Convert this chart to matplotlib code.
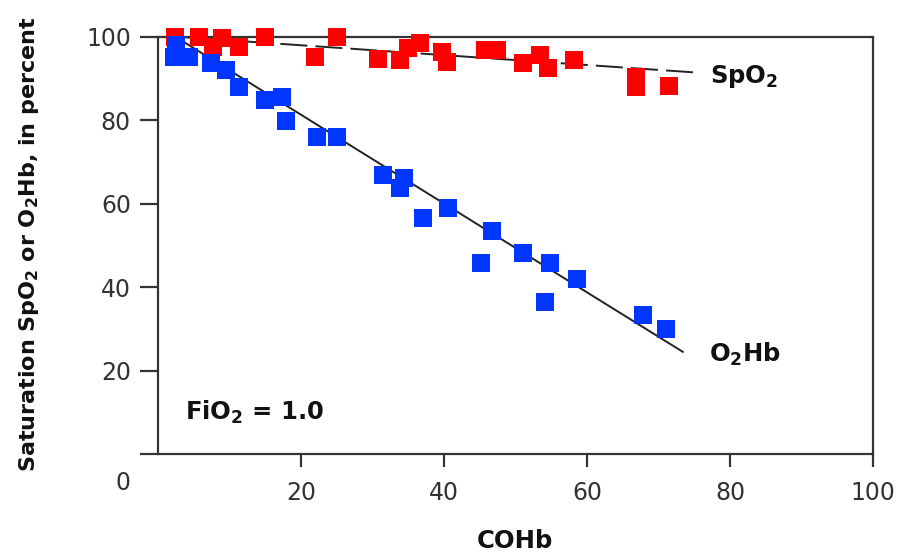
import matplotlib
matplotlib.use("Agg")
import matplotlib.pyplot as plt
from matplotlib.transforms import ScaledTranslation

plt.rcParams['font.family'] = ['DejaVu Sans']
plt.rcParams['mathtext.fontset'] = 'dejavusans'
plt.rcParams['mathtext.default'] = 'bf'

# ---- data ----
spo2_x = [2.4, 5.7, 7.7, 9.0, 11.3, 15.0, 22.0, 25.0, 30.8, 33.9, 34.9, 36.7,
          39.7, 40.4, 45.7, 47.4, 51.0, 53.4, 54.5, 58.2, 66.9, 66.8, 71.4]
spo2_y = [100.0, 100.0, 97.6, 99.7, 97.6, 100.0, 95.2, 100.0, 94.7, 94.5, 97.3, 98.5,
          96.4, 94.0, 97.0, 97.0, 93.7, 95.6, 92.5, 94.5, 90.4, 88.0, 88.2]

o2hb_x = [2.5, 2.3, 4.3, 7.4, 9.5, 11.3, 15.0, 17.4, 17.9, 22.3, 25.1, 31.4,
          33.9, 34.4, 37.0, 40.6, 46.7, 45.2, 51.0, 54.8, 54.1, 58.6, 67.9, 71.1]
o2hb_y = [98.0, 95.2, 95.2, 93.7, 92.0, 88.0, 84.8, 85.5, 79.8, 75.9, 75.9, 67.0,
          63.9, 66.3, 56.6, 58.9, 53.5, 45.8, 48.2, 45.8, 36.4, 41.9, 33.3, 30.0]

spo2_fit_x = [2.4, 75.1]
spo2_fit_y = [100.1, 91.5]
o2hb_fit_x = [2.4, 73.4]
o2hb_fit_y = [100.1, 24.5]

x_ticks = [20, 40, 60, 80, 100]
y_ticks = [0, 20, 40, 60, 80, 100]

# ---- figure ----
fig = plt.figure(figsize=(9.0, 5.56), dpi=100)
ax = fig.add_axes([158/900, 1-454/556, (873-158)/900, (454-37)/556])

spine_c = '#333333'
lw = 2.2 * 72 / 100

ax.plot(spo2_fit_x, spo2_fit_y, color='#222222', lw=1.4,
        dashes=(19.5/1.4, 5.8/1.4), zorder=2)
ax.plot(o2hb_fit_x, o2hb_fit_y, color='#222222', lw=1.4, zorder=2)

ms = 13.3
ax.plot(spo2_x, spo2_y, ls='none', marker='s', ms=ms, mew=0,
        color='#FF0000', clip_on=False, zorder=3)
ax.plot(o2hb_x, o2hb_y, ls='none', marker='s', ms=ms, mew=0,
        color='#0036FF', clip_on=False, zorder=3)

ax.set_xlim(0, 100)
ax.set_ylim(0, 100)
ax.set_xticks(x_ticks)
ax.set_yticks(y_ticks)
ax.set_xticklabels([str(v) for v in x_ticks])
ax.set_yticklabels([str(v) for v in y_ticks])

for s in ax.spines.values():
    s.set_color(spine_c)
    s.set_linewidth(lw)

ax.tick_params(axis='y', direction='out', length=13, width=lw, color=spine_c,
               labelsize=17, labelcolor='#333333', pad=6.5)
ax.tick_params(axis='x', direction='out', length=9.4, width=lw, color=spine_c,
               labelsize=17, labelcolor='#333333', pad=10)

# shift the "0" y-label down below the corner
lab0 = ax.get_yticklabels()[0]
lab0.set_transform(lab0.get_transform() + ScaledTranslation(0, -27/100, fig.dpi_scale_trans))

ax.set_xlabel('COHb', fontsize=17.5, fontweight='bold', color='#111111')
ax.xaxis.label.set_verticalalignment('center')
ax.xaxis.set_label_coords((515-158)/715, (454-541)/417)

ax.set_ylabel('Saturation SpO$_2$ or O$_2$Hb, in percent', fontsize=16,
              fontweight='bold', color='#111111')
ax.yaxis.label.set_verticalalignment('center')
ax.yaxis.label.set_horizontalalignment('center')
ax.yaxis.set_label_coords((29-158)/715, (454-244)/417)

ax.text(77.2, 88.9, 'SpO$_2$', fontsize=17.5, fontweight='bold', color='#111111',
        ha='left', va='baseline')
ax.text(77.1, 22.1, 'O$_2$Hb', fontsize=17.5, fontweight='bold', color='#111111',
        ha='left', va='baseline')
ax.text(3.8, 8.15, 'FiO$_2$ = 1.0', fontsize=17.5, fontweight='bold', color='#111111',
        ha='left', va='baseline')

fig.savefig('out.png', dpi=100)
